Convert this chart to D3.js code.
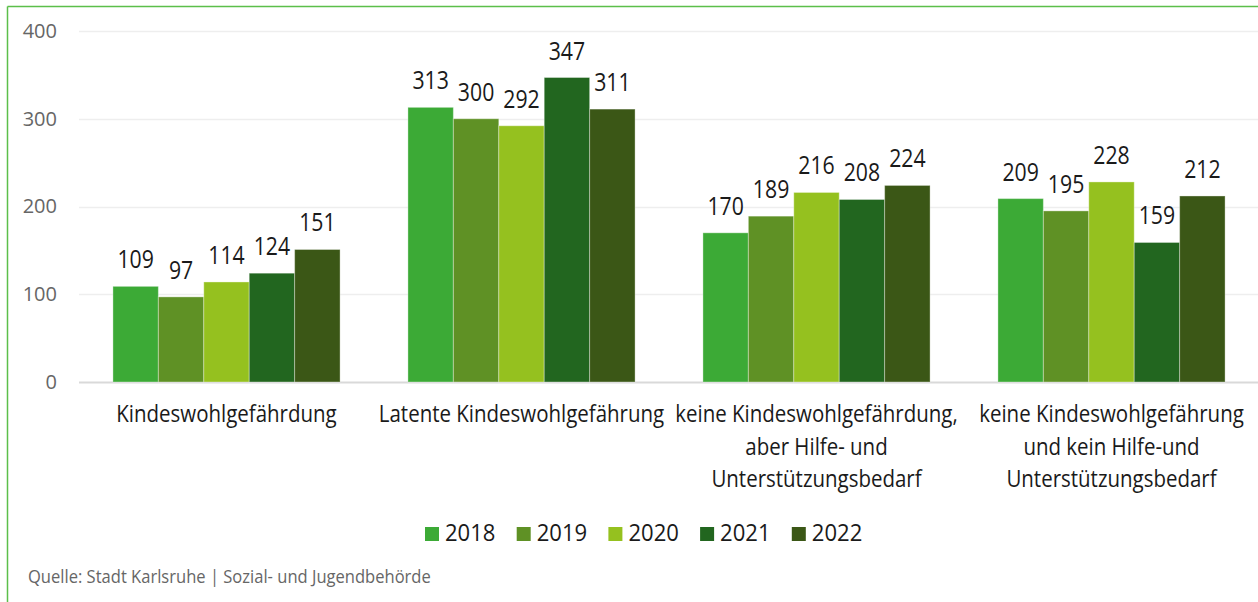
<!DOCTYPE html>
<html><head><meta charset="utf-8">
<script src="https://cdn.jsdelivr.net/npm/d3@7"></script>
<style>
html,body{margin:0;padding:0;background:#fff;}
svg{display:block;font-family:"Open Sans",sans-serif;}
</style></head>
<body>
<svg id="chart" width="1258" height="602"></svg>
<script>
const categories = [
  ["Kindeswohlgefährdung"],
  ["Latente Kindeswohlgefährung"],
  ["keine Kindeswohlgefährdung,", "aber Hilfe- und", "Unterstützungsbedarf"],
  ["keine Kindeswohlgefährung", "und kein Hilfe-und", "Unterstützungsbedarf"]
];
const years = ["2018", "2019", "2020", "2021", "2022"];
const v2018 = [109, 313, 170, 209];
const v2019 = [97, 300, 189, 195];
const v2020 = [114, 292, 216, 228];
const v2021 = [124, 347, 208, 159];
const v2022 = [151, 311, 224, 212];
const series = [v2018, v2019, v2020, v2021, v2022];
const colors = ["#3caa36", "#5f9125", "#95c11f", "#22661f", "#3b5716"];
const yTicks = [0, 100, 200, 300, 400];

const svg = d3.select("#chart");
// frame
svg.append("line").attr("x1",7.5).attr("x2",1258).attr("y1",6.5).attr("y2",6.5).attr("stroke","#5cbf4a").attr("stroke-width",1.5);
svg.append("line").attr("x1",7.5).attr("x2",7.5).attr("y1",6.5).attr("y2",602).attr("stroke","#5cbf4a").attr("stroke-width",1.5);

const y = d3.scaleLinear().domain([0,400]).range([382,31]);
const x0 = d3.scaleBand().domain(d3.range(categories.length)).range([79,1259]).paddingInner(0.23).paddingOuter(0.115);
const x1 = d3.scaleBand().domain(d3.range(years.length)).range([0,x0.bandwidth()]);

// condensed text helper
function ctext(sel, x, yy, size, sx, anchor, fill, str){
  return sel.append("text")
    .attr("transform",`translate(${x},${yy}) scale(${sx},1)`)
    .attr("text-anchor",anchor).attr("font-size",size+"px").attr("fill",fill).text(str);
}

// grid
svg.append("g").selectAll("line").data(yTicks).join("line")
  .attr("x1",79).attr("x2",1258)
  .attr("y1",d=>Math.round(y(d))+0.5).attr("y2",d=>Math.round(y(d))+0.5)
  .attr("stroke",d=>d===0?"#d9d9d9":"#eeeeee").attr("stroke-width",d=>d===0?2:1.5);

const yAxis = d3.axisLeft(y).tickValues(yTicks).tickSize(0).tickPadding(0);
const ga = svg.append("g").attr("transform","translate(57,0)").call(yAxis);
ga.select(".domain").remove();
ga.selectAll("text").attr("fill","#666").attr("font-size","20px").attr("font-family","Open Sans");

const groups = svg.append("g").selectAll("g").data(categories).join("g")
  .attr("transform",(d,i)=>`translate(${x0(i)},0)`);

groups.each(function(c,i){
  const g = d3.select(this);
  series.forEach((s,j)=>{
    g.append("rect").attr("x",x1(j)).attr("width",x1.bandwidth())
      .attr("y",y(s[i])).attr("height",y(0)-y(s[i]))
      .attr("fill",colors[j]).attr("stroke","#fff").attr("stroke-opacity",0.35).attr("stroke-width",1);
    ctext(g, x1(j)+x1.bandwidth()/2, y(s[i])-18, 25, 0.85, "middle", "#1a1a1a", s[i]);
  });
  c.forEach((line,k)=>{
    ctext(g, x0.bandwidth()/2, 422+k*32.5, 23, 0.89, "middle", "#1a1a1a", line);
  });
});

// legend
const legend = svg.append("g").selectAll("g").data(years).join("g")
  .attr("transform",(d,i)=>`translate(${425+i*91.7},0)`);
legend.append("rect").attr("x",0).attr("y",527).attr("width",14).attr("height",14).attr("fill",(d,i)=>colors[i]);
legend.each(function(d){ ctext(d3.select(this), 20, 541, 24, 0.92, "start", "#1a1a1a", d); });

ctext(svg, 28, 583, 18, 0.92, "start", "#666", "Quelle: Stadt Karlsruhe | Sozial- und Jugendbehörde");
</script>
</body></html>
